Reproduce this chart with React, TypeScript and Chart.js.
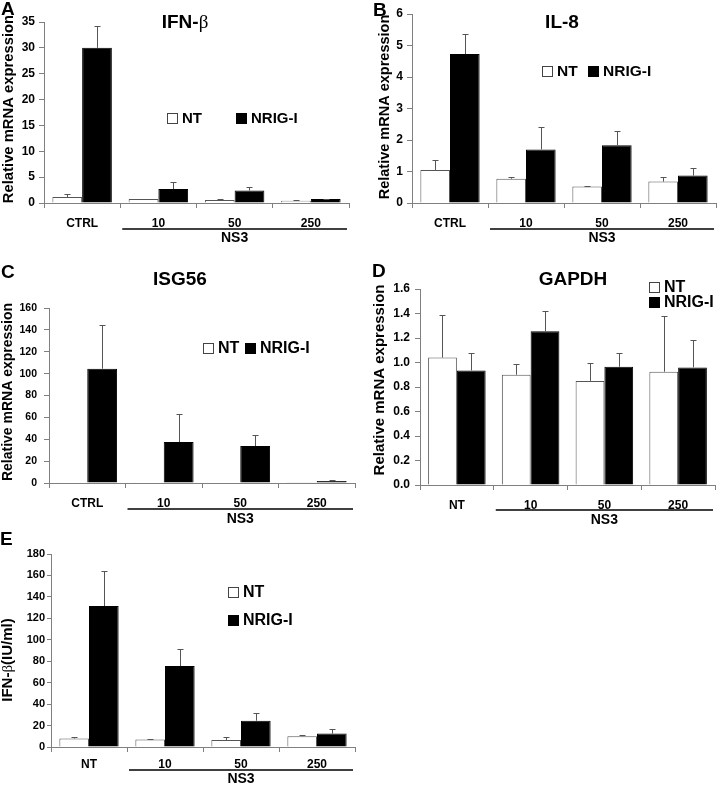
import React, { useEffect, useRef } from "react";
import { Chart, registerables } from "chart.js";

Chart.register(...registerables);

const FONT = "'Liberation Sans', Arial, Helvetica, sans-serif";
const SERIF = "'Liberation Serif', 'DejaVu Serif', serif";
const AXIS = "#808080";

// ---- categories / labels ----
const labelsCtrl = ["CTRL", "10", "50", "250"];
const labelsNT = ["NT", "10", "50", "250"];
const seriesNames = ["NT", "NRIG-I"];
const groupLabel = "NS3";

// ---- A: IFN-β mRNA ----
const ifnNT = [1.16, 0.77, 0.58, 0.45];
const ifnNTErr = [0.58, 0.07, 0.12, 0.05];
const ifnRIG = [30, 2.7, 2.4, 0.77];
const ifnRIGErr = [4.3, 1.4, 0.6, 0.07];

// ---- B: IL-8 mRNA ----
const il8NT = [1.05, 0.77, 0.52, 0.68];
const il8NTErr = [0.32, 0.06, 0.02, 0.13];
const il8RIG = [4.73, 1.7, 1.83, 0.87];
const il8RIGErr = [0.64, 0.72, 0.47, 0.24];

// ---- C: ISG56 mRNA ----
const isgNT = [0.8, 0.8, 0.4, 0.3];
const isgNTErr = [0, 0, 0, 0];
const isgRIG = [104.5, 37.5, 33.8, 1.8];
const isgRIGErr = [40, 26, 10, 0.7];

// ---- D: GAPDH mRNA ----
const gapdhNT = [1.04, 0.9, 0.85, 0.925];
const gapdhNTErr = [0.35, 0.09, 0.15, 0.455];
const gapdhRIG = [0.935, 1.255, 0.965, 0.96];
const gapdhRIGErr = [0.145, 0.165, 0.115, 0.22];

// ---- E: IFN-β protein (IU/ml) ----
const elisaNT = [8, 7, 6.5, 10];
const elisaNTErr = [1.2, 0.8, 2.5, 0.8];
const elisaRIG = [131.5, 75.5, 24.5, 12.5];
const elisaRIGErr = [33, 15.5, 7, 4];

type Part = { t: string; serif?: boolean };
type Panel = {
  letter: string;
  left: number; top: number; w: number; h: number;
  area: { l: number; t: number; r: number; b: number };
  labels: string[];
  nt: number[]; ntErr: number[]; rig: number[]; rigErr: number[];
  yMax: number; yStep: number; decimals: number; tickSize: number; tickPad: number; tickLen: number;
  title?: { parts: Part[]; x: number; y: number; size: number };
  yTitle: { parts: Part[]; x: number; y: number; size: number };
  legend: { x: number; y: number; dx: number; dy: number; size: number; box: number };
  letterPos: { x: number; y: number };
  labelPad: number; lineOff: number; ns3Off: number;
};

const panels: Panel[] = [
  {
    letter: "A", left: 0, top: 0, w: 360, h: 256,
    area: { l: 44, t: 22, r: 349, b: 203 },
    labels: labelsCtrl, nt: ifnNT, ntErr: ifnNTErr, rig: ifnRIG, rigErr: ifnRIGErr,
    yMax: 35, yStep: 5, decimals: 0, tickSize: 12, tickPad: 4, tickLen: 5,
    title: { parts: [{ t: "IFN-" }, { t: "β", serif: true }], x: 185, y: 23, size: 19 },
    yTitle: { parts: [{ t: "Relative mRNA expression" }], x: 9, y: 109, size: 14.8 },
    legend: { x: 167, y: 113, dx: 69, dy: 0, size: 15, box: 11 },
    letterPos: { x: 1, y: 15 },
    labelPad: 8, lineOff: 26, ns3Off: 35,
  },
  {
    letter: "B", left: 360, top: 0, w: 360, h: 256,
    area: { l: 52, t: 14, r: 356, b: 203 },
    labels: labelsCtrl, nt: il8NT, ntErr: il8NTErr, rig: il8RIG, rigErr: il8RIGErr,
    yMax: 6, yStep: 1, decimals: 0, tickSize: 12, tickPad: 4, tickLen: 5,
    title: { parts: [{ t: "IL-8" }], x: 202, y: 23, size: 19 },
    yTitle: { parts: [{ t: "Relative mRNA expression" }], x: 25, y: 107, size: 14.5 },
    legend: { x: 182, y: 66, dx: 46, dy: 0, size: 15.5, box: 11 },
    letterPos: { x: 13, y: 16 },
    labelPad: 8, lineOff: 26, ns3Off: 35,
  },
  {
    letter: "C", left: 0, top: 256, w: 360, h: 270,
    area: { l: 49, t: 52, r: 355, b: 227 },
    labels: labelsCtrl, nt: isgNT, ntErr: isgNTErr, rig: isgRIG, rigErr: isgRIGErr,
    yMax: 160, yStep: 20, decimals: 0, tickSize: 10.5, tickPad: 7, tickLen: 5,
    title: { parts: [{ t: "ISG56" }], x: 180, y: 24, size: 19 },
    yTitle: { parts: [{ t: "Relative mRNA expression" }], x: 8, y: 136, size: 14 },
    legend: { x: 203, y: 87, dx: 42, dy: 0, size: 16, box: 11 },
    letterPos: { x: 1, y: 22 },
    labelPad: 8, lineOff: 26, ns3Off: 36,
  },
  {
    letter: "D", left: 360, top: 256, w: 360, h: 270,
    area: { l: 60, t: 33, r: 355, b: 229 },
    labels: labelsNT, nt: gapdhNT, ntErr: gapdhNTErr, rig: gapdhRIG, rigErr: gapdhRIGErr,
    yMax: 1.6, yStep: 0.2, decimals: 1, tickSize: 12, tickPad: 5, tickLen: 5,
    title: { parts: [{ t: "GAPDH" }], x: 213, y: 24, size: 19 },
    yTitle: { parts: [{ t: "Relative mRNA expression" }], x: 20, y: 124, size: 15 },
    legend: { x: 289, y: 26, dx: 0, dy: 15, size: 16, box: 11 },
    letterPos: { x: 12, y: 21 },
    labelPad: 8, lineOff: 25, ns3Off: 35,
  },
  {
    letter: "E", left: 0, top: 526, w: 360, h: 259,
    area: { l: 51, t: 28, r: 355, b: 221 },
    labels: labelsNT, nt: elisaNT, ntErr: elisaNTErr, rig: elisaRIG, rigErr: elisaRIGErr,
    yMax: 180, yStep: 20, decimals: 0, tickSize: 11, tickPad: 2, tickLen: 4,
    yTitle: { parts: [{ t: "IFN-" }, { t: "β", serif: true }, { t: "(IU/ml)" }], x: 8, y: 134, size: 15 },
    legend: { x: 228, y: 61, dx: 0, dy: 28, size: 16, box: 11 },
    letterPos: { x: 0, y: 19 },
    labelPad: 5, lineOff: 23, ns3Off: 32,
  },
];

function partFont(p: Part, size: number) {
  return p.serif ? `normal ${size}px ${SERIF}` : `bold ${size}px ${FONT}`;
}

function drawParts(ctx: CanvasRenderingContext2D, parts: Part[], cx: number, cy: number, size: number) {
  let total = 0;
  const widths = parts.map((p) => {
    ctx.font = partFont(p, size);
    const w = ctx.measureText(p.t).width;
    total += w;
    return w;
  });
  let x = cx - total / 2;
  ctx.textBaseline = "middle";
  ctx.textAlign = "left";
  ctx.fillStyle = "#000";
  parts.forEach((p, i) => {
    ctx.font = partFont(p, size);
    ctx.fillText(p.t, x, cy);
    x += widths[i];
  });
}

function overlay(p: Panel) {
  return {
    id: "overlay" + p.letter,
    afterDatasetsDraw(chart: any) {
      const ctx: CanvasRenderingContext2D = chart.ctx;
      const ys = chart.scales.y;
      const sets: [number[], number][] = [[p.ntErr, 0], [p.rigErr, 1]];
      ctx.save();
      ctx.strokeStyle = "#555";
      ctx.lineWidth = 1;
      sets.forEach(([errs, di]) => {
        const meta = chart.getDatasetMeta(di);
        const vals = chart.data.datasets[di].data as number[];
        meta.data.forEach((el: any, i: number) => {
          const e = errs[i];
          if (!e) return;
          const x = Math.round(el.x) + 0.5;
          const yb = ys.getPixelForValue(vals[i]);
          const yt = Math.round(ys.getPixelForValue(vals[i] + e)) + 0.5;
          ctx.beginPath();
          ctx.moveTo(x, yb);
          ctx.lineTo(x, yt);
          ctx.moveTo(x - 3, yt);
          ctx.lineTo(x + 3, yt);
          ctx.stroke();
        });
      });
      ctx.restore();
    },
    afterDraw(chart: any) {
      const ctx: CanvasRenderingContext2D = chart.ctx;
      const area = chart.chartArea;
      const xs = chart.scales.x;
      ctx.save();
      // group underline + NS3
      const x0 = (xs.getPixelForValue(0) + xs.getPixelForValue(1)) / 2 + 2;
      const x1 = area.right - 2;
      const ly = area.bottom + p.lineOff;
      ctx.strokeStyle = "#000";
      ctx.lineWidth = 1.5;
      ctx.beginPath();
      ctx.moveTo(x0, ly);
      ctx.lineTo(x1, ly);
      ctx.stroke();
      ctx.font = `bold 14px ${FONT}`;
      ctx.fillStyle = "#000";
      ctx.textAlign = "center";
      ctx.textBaseline = "middle";
      ctx.fillText(groupLabel, (x0 + x1) / 2, area.bottom + p.ns3Off);

      // title
      if (p.title) drawParts(ctx, p.title.parts, p.title.x, p.title.y, p.title.size);

      // y title (rotated)
      ctx.save();
      ctx.translate(p.yTitle.x, p.yTitle.y);
      ctx.rotate(-Math.PI / 2);
      drawParts(ctx, p.yTitle.parts, 0, 0, p.yTitle.size);
      ctx.restore();

      // legend
      const lg = p.legend;
      seriesNames.forEach((name, i) => {
        const bx = lg.x + i * lg.dx;
        const by = lg.y + i * lg.dy;
        ctx.fillStyle = i === 0 ? "#fff" : "#000";
        ctx.fillRect(bx, by, lg.box, lg.box);
        ctx.strokeStyle = i === 0 ? "#444" : "#000";
        ctx.lineWidth = 1;
        ctx.strokeRect(bx + 0.5, by + 0.5, lg.box - 1, lg.box - 1);
        ctx.fillStyle = "#000";
        ctx.font = `bold ${lg.size}px ${FONT}`;
        ctx.textAlign = "left";
        ctx.textBaseline = "middle";
        ctx.fillText(name, bx + lg.box + 4, by + lg.box / 2 + 0.5);
      });

      // panel letter
      ctx.font = `bold 19px ${FONT}`;
      ctx.textAlign = "left";
      ctx.textBaseline = "alphabetic";
      ctx.fillStyle = "#000";
      ctx.fillText(p.letter, p.letterPos.x, p.letterPos.y);
      ctx.restore();
    },
  };
}

function PanelChart({ p }: { p: Panel }) {
  const ref = useRef<HTMLCanvasElement>(null);
  useEffect(() => {
    const canvas = ref.current!;
    const chart = new Chart(canvas, {
      type: "bar",
      data: {
        labels: p.labels,
        datasets: [
          {
            label: seriesNames[0], data: p.nt, backgroundColor: "#ffffff", borderColor: "#555",
            borderWidth: 1, categoryPercentage: 0.78, barPercentage: 1,
          },
          {
            label: seriesNames[1], data: p.rig, backgroundColor: "#000000", borderColor: "#000",
            borderWidth: 1, categoryPercentage: 0.78, barPercentage: 1,
          },
        ],
      },
      options: {
        responsive: false,
        animation: false,
        devicePixelRatio: 1,
        layout: { padding: { top: p.area.t, right: p.w - p.area.r, left: 0, bottom: 0 } },
        plugins: { legend: { display: false }, tooltip: { enabled: false }, title: { display: false } },
        scales: {
          x: {
            offset: true,
            grid: { display: true, drawOnChartArea: false, offset: true, tickLength: 5, color: AXIS },
            border: { display: true, color: AXIS, width: 1 },
            ticks: {
              color: "#000", maxRotation: 0, autoSkip: false, padding: p.labelPad,
              font: { family: FONT, weight: "bold", size: 12 },
            },
            afterFit: (s: any) => { s.height = p.h - p.area.b; },
          },
          y: {
            min: 0, max: p.yMax,
            grid: { display: true, drawOnChartArea: false, tickLength: p.tickLen, color: AXIS },
            border: { display: true, color: AXIS, width: 1 },
            ticks: {
              stepSize: p.yStep, color: "#000", padding: p.tickPad,
              font: { family: FONT, weight: "bold", size: p.tickSize },
              callback: (v: any) => Number(v).toFixed(p.decimals),
            },
            afterFit: (s: any) => { s.width = p.area.l; },
          },
        },
      } as any,
      plugins: [overlay(p)],
    });
    return () => chart.destroy();
  }, []);
  return (
    <canvas
      ref={ref}
      width={p.w}
      height={p.h}
      style={{ position: "absolute", left: p.left, top: p.top, width: p.w, height: p.h }}
    />
  );
}

export default function App() {
  return (
    <div style={{ position: "absolute", left: 0, top: 0, width: 720, height: 785, background: "#fff" }}>
      {panels.map((p) => (
        <PanelChart key={p.letter} p={p} />
      ))}
    </div>
  );
}
